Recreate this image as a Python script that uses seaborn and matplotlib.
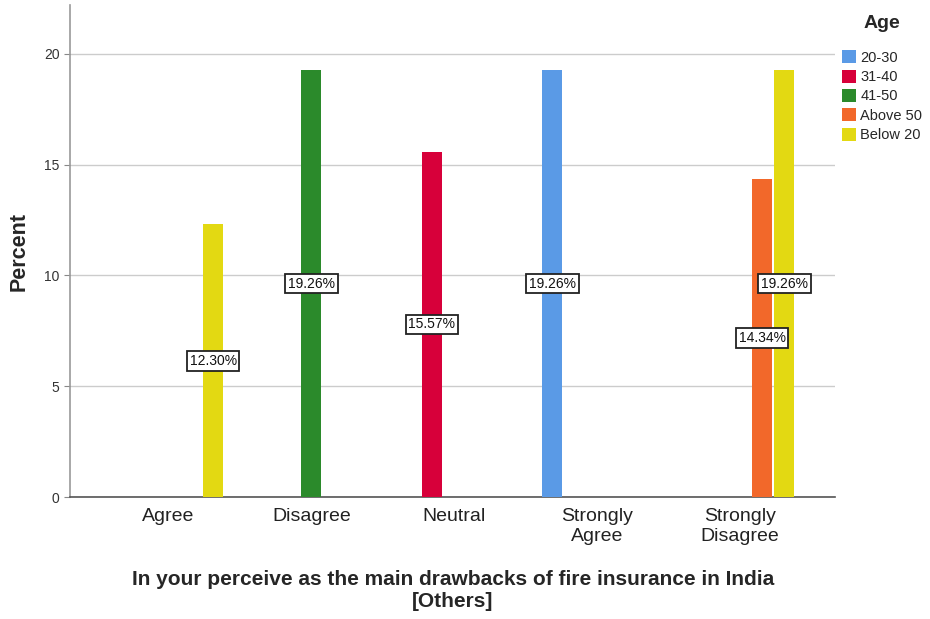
import matplotlib
matplotlib.use("Agg")
import matplotlib.pyplot as plt
import seaborn as sns
import pandas as pd

# ── data ─────────────────────────────────────────────────────────────────────
CATEGORIES = ['Agree', 'Disagree', 'Neutral', 'Strongly Agree', 'Strongly Disagree']
TICK_LABELS = ['Agree', 'Disagree', 'Neutral', 'Strongly\nAgree', 'Strongly\nDisagree']
AGES = ['20-30', '31-40', '41-50', 'Above 50', 'Below 20']
COLORS = ['#5A9AE6', '#D7003A', '#2B8A2B', '#F2682A', '#E3D912']

bar_cat = ['Agree', 'Disagree', 'Neutral', 'Strongly Agree', 'Strongly Disagree', 'Strongly Disagree']
bar_age = ['Below 20', '41-50', '31-40', '20-30', 'Above 50', 'Below 20']
bar_pct = [12.30, 19.26, 15.57, 19.26, 14.34, 19.26]

df = pd.DataFrame({'response': bar_cat, 'Age': bar_age, 'pct': bar_pct})

# ── plot ─────────────────────────────────────────────────────────────────────
sns.set_style('white')
plt.rcParams['font.family'] = ['Liberation Sans', 'DejaVu Sans']

fig = plt.figure(figsize=(9.3, 6.19), dpi=100)
ax = fig.add_axes([0.0753, 0.197, 0.823, 0.795])

sns.barplot(data=df, x='response', y='pct', hue='Age',
            order=CATEGORIES, hue_order=AGES, palette=COLORS,
            width=0.78, gap=0.1, dodge=True, saturation=1,
            errorbar=None, ax=ax, zorder=3, linewidth=0)

for cont in ax.containers:
    for bar in cont:
        h = bar.get_height()
        if h > 0:
            ax.text(bar.get_x() + bar.get_width() / 2, h / 2, f'{h:.2f}%',
                    ha='center', va='center', fontsize=10, zorder=5, color='#111111',
                    bbox=dict(boxstyle='square,pad=0.2', fc='white', ec='#222222', lw=1.3))

ax.set_ylim(0, 22.2)
ax.set_xlim(-0.69, 4.67)
ax.set_yticks([0, 5, 10, 15, 20])
ax.yaxis.grid(True, color='#cccccc', lw=1, zorder=0)
ax.set_axisbelow(True)
ax.set_xticks(range(len(CATEGORIES)))
ax.set_xticklabels(TICK_LABELS, fontsize=14, color='#222222', linespacing=1.25)
ax.tick_params(axis='y', labelsize=10, color='#888888', length=4, left=True, colors='#333333')
ax.tick_params(axis='x', length=0, pad=8)

for s in ['top', 'right']:
    ax.spines[s].set_visible(False)
ax.spines['left'].set_color('#999999')
ax.spines['left'].set_linewidth(1.2)
ax.spines['bottom'].set_color('#555555')
ax.spines['bottom'].set_linewidth(1.2)

ax.set_ylabel('Percent', fontsize=15.5, fontweight='bold', labelpad=10)
ax.set_xlabel('In your perceive as the main drawbacks of fire insurance in India\n[Others]',
              fontsize=15, fontweight='bold', labelpad=18, linespacing=1.2)

leg = ax.legend(title='Age', loc='upper left', bbox_to_anchor=(0.899, 0.985),
                bbox_transform=fig.transFigure, frameon=False, fontsize=10.5,
                handlelength=1.0, handleheight=1.0, handletextpad=0.25,
                labelspacing=0.33, borderaxespad=0)
leg.get_title().set_fontweight('bold')
leg.get_title().set_fontsize(14)
leg._legend_box.align = 'center'
leg._legend_box.sep = 13

fig.savefig('out.png', dpi=100)
